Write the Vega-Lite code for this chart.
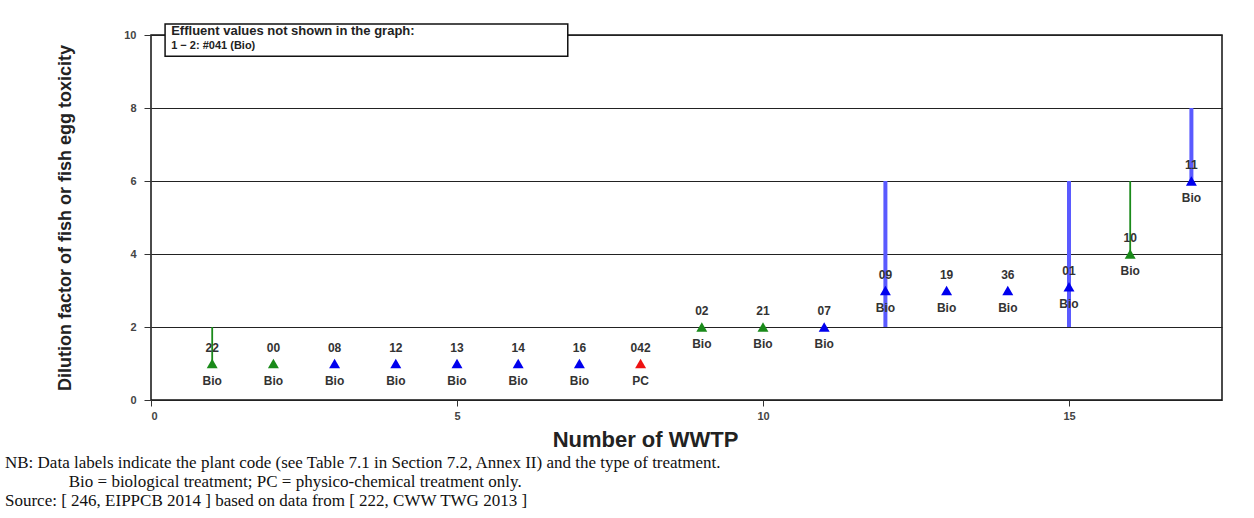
{
  "$schema": "https://vega.github.io/schema/vega-lite/v6.json",
  "width": 1071,
  "height": 365,
  "autosize": {"type": "none"},
  "padding": {"left": 151, "top": 35, "right": 32, "bottom": 118},
  "background": "white",
  "title": {
    "text": [
      "NB:  Data labels indicate the plant code (see Table 7.1 in Section 7.2, Annex II) and the type of treatment.",
      "\u200b\u00a0\u00a0\u00a0\u00a0\u00a0\u00a0\u00a0\u00a0\u00a0\u00a0\u00a0\u00a0\u00a0\u00a0\u00a0Bio = biological treatment; PC = physico-chemical treatment only.",
      "Source: [ 246, EIPPCB 2014 ] based on data from [ 222, CWW TWG 2013 ]"
    ],
    "orient": "bottom",
    "anchor": "start",
    "frame": "group",
    "dx": -146,
    "offset": 5,
    "font": "Liberation Serif",
    "fontSize": 17,
    "fontWeight": "normal",
    "color": "#111",
    "lineHeight": 19
  },
  "config": {
    "view": {"stroke": "#111", "strokeWidth": 1.5},
    "axis": {"labelFont": "Liberation Sans", "titleFont": "Liberation Sans", "domain": false}
  },
  "data": {
    "values": [
      {"x": 1, "y": 1, "code": "22", "treat": "Bio", "series": "green", "lo": 1, "hi": 2},
      {"x": 2, "y": 1, "code": "00", "treat": "Bio", "series": "green"},
      {"x": 3, "y": 1, "code": "08", "treat": "Bio", "series": "blue"},
      {"x": 4, "y": 1, "code": "12", "treat": "Bio", "series": "blue"},
      {"x": 5, "y": 1, "code": "13", "treat": "Bio", "series": "blue"},
      {"x": 6, "y": 1, "code": "14", "treat": "Bio", "series": "blue"},
      {"x": 7, "y": 1, "code": "16", "treat": "Bio", "series": "blue"},
      {"x": 8, "y": 1, "code": "042", "treat": "PC", "series": "red"},
      {"x": 9, "y": 2, "code": "02", "treat": "Bio", "series": "green"},
      {"x": 10, "y": 2, "code": "21", "treat": "Bio", "series": "green"},
      {"x": 11, "y": 2, "code": "07", "treat": "Bio", "series": "blue"},
      {"x": 12, "y": 3, "code": "09", "treat": "Bio", "series": "blue", "lo": 2, "hi": 6},
      {"x": 13, "y": 3, "code": "19", "treat": "Bio", "series": "blue"},
      {"x": 14, "y": 3, "code": "36", "treat": "Bio", "series": "blue"},
      {"x": 15, "y": 3.1, "code": "01", "treat": "Bio", "series": "blue", "lo": 2, "hi": 6},
      {"x": 16, "y": 4, "code": "10", "treat": "Bio", "series": "green", "lo": 4, "hi": 6},
      {"x": 17, "y": 6, "code": "11", "treat": "Bio", "series": "blue", "lo": 6, "hi": 8}
    ]
  },
  "encoding": {
    "x": {
      "field": "x", "type": "quantitative",
      "scale": {"domain": [0, 17.5], "nice": false},
      "axis": {
        "values": [0, 5, 10, 15], "grid": false, "tickSize": 6, "tickColor": "#333",
        "labelFontSize": 11, "labelFontWeight": "bold", "labelColor": "#444", "labelPadding": 4,
        "title": "Number of WWTP", "titleFontSize": 22, "titleFontWeight": "bold",
        "titleColor": "#222", "titlePadding": 8, "titleX": 494, "titleAlign": "center"
      }
    },
    "y": {
      "field": "y", "type": "quantitative",
      "scale": {"domain": [0, 10], "nice": false},
      "axis": {
        "values": [0, 2, 4, 6, 8, 10], "grid": true, "gridColor": "#222", "gridWidth": 1.2,
        "gridOpacity": 1, "tickSize": 7, "tickColor": "#333",
        "labelFontSize": 11, "labelFontWeight": "bold", "labelColor": "#444", "labelPadding": 8,
        "title": "Dilution factor of  fish or fish egg toxicity", "titleFontSize": 18,
        "titleFontWeight": "bold", "titleColor": "#222", "titlePadding": 49
      }
    }
  },
  "layer": [
    {
      "transform": [{"filter": "isValid(datum.lo) && datum.series === 'blue'"}],
      "mark": {"type": "rule", "strokeWidth": 4, "color": "#5a5aff"},
      "encoding": {"y": {"field": "lo", "type": "quantitative"}, "y2": {"field": "hi"}}
    },
    {
      "transform": [{"filter": "isValid(datum.lo) && datum.series === 'green'"}],
      "mark": {"type": "rule", "strokeWidth": 1.8, "color": "#1a8a1a"},
      "encoding": {"y": {"field": "lo", "type": "quantitative"}, "y2": {"field": "hi"}}
    },
    {
      "mark": {"type": "point", "shape": "triangle-up", "filled": true, "size": 120, "opacity": 1},
      "encoding": {
        "color": {
          "field": "series", "type": "nominal", "legend": null,
          "scale": {"domain": ["green", "blue", "red"], "range": ["#1a8a1a", "#0000ee", "#ee1111"]}
        }
      }
    },
    {
      "mark": {"type": "text", "dy": -16, "font": "Liberation Sans", "fontSize": 12, "fontWeight": "bold", "color": "#333"},
      "encoding": {"text": {"field": "code"}}
    },
    {
      "mark": {"type": "text", "dy": 17, "font": "Liberation Sans", "fontSize": 12, "fontWeight": "bold", "color": "#333"},
      "encoding": {"text": {"field": "treat"}}
    },
    {
      "data": {"values": [{"x0": 0.23, "x1": 6.81, "y0": 9.42, "y1": 10.3}]},
      "mark": {"type": "rect", "fill": "white", "stroke": "#111", "strokeWidth": 1.5},
      "encoding": {
        "x": {"field": "x0", "type": "quantitative"},
        "x2": {"field": "x1"},
        "y": {"field": "y0", "type": "quantitative"},
        "y2": {"field": "y1"}
      }
    },
    {
      "data": {"values": [{"x": 0.33, "y": 10.1, "note": "Effluent values not shown in the graph:"}, {"x": 0.33, "y": 9.7, "note": "1 \u2212 2: #041 (Bio)"}]},
      "mark": {"type": "text", "align": "left", "baseline": "middle", "font": "Liberation Sans", "fontWeight": "bold", "color": "#222"},
      "encoding": {
        "x": {"field": "x", "type": "quantitative"},
        "y": {"field": "y", "type": "quantitative"},
        "text": {"field": "note"},
        "size": {"condition": {"test": "datum.y > 10", "value": 13}, "value": 11}
      }
    }
  ]
}
